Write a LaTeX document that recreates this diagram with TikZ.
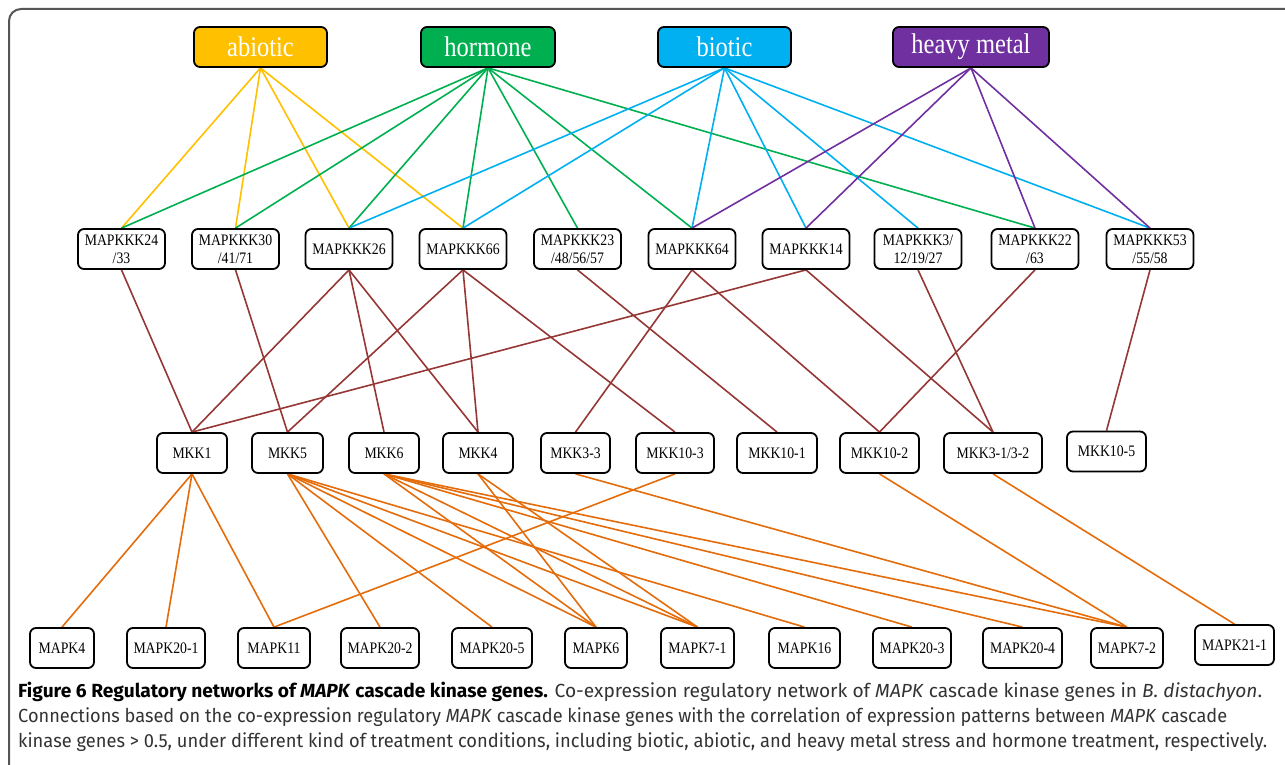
\documentclass[tikz,border=0pt]{standalone}
\usepackage{fontspec}
\setmainfont{Liberation Serif}[FakeStretch=0.86]
\newfontfamily\capfont{Fira Sans}
\usetikzlibrary{backgrounds}
\definecolor{abioC}{HTML}{FFC000}
\definecolor{hormC}{HTML}{00B050}
\definecolor{bioC}{HTML}{00B0F0}
\definecolor{metC}{HTML}{7030A0}
\definecolor{kkC}{HTML}{953735}
\definecolor{kC}{HTML}{E46C0A}
\definecolor{frameC}{HTML}{555555}
\definecolor{capC}{HTML}{333333}
\newsavebox\capbox
\newcommand\fitto[2]{\sbox\capbox{#2}\pgfmathsetmacro\capsx{#1/\wd\capbox}\scalebox{\capsx}[1]{\usebox\capbox}}
\tikzset{
  gene/.style={draw=black, line width=1.8pt, rounded corners=6pt, fill=white,
    minimum height=40pt, inner sep=0pt, align=center,
    font=\fontsize{16}{18}\selectfont},
  cat/.style={draw=black, line width=1.8pt, rounded corners=6pt,
    minimum height=40pt, inner sep=0pt, text=white,
    font=\fontsize{28.5}{30}\selectfont},
  e/.style={line width=1.6pt},
  capline/.style={anchor=base west, inner sep=0pt, text=capC,
    font=\capfont\fontsize{19}{20}\selectfont}
}
\begin{document}
\begin{tikzpicture}[x=1pt,y=-1pt]
\useasboundingbox (0,0) rectangle (1285,765);
\draw[frameC, line width=2pt, rounded corners=12pt] (9,9) rectangle (1310,790);

% categories
\node[cat, fill=abioC, minimum width=133pt] (abiotic) at (260.5,47) {abiotic};
\node[cat, fill=hormC, minimum width=134pt] (hormone) at (488,47) {hormone};
\node[cat, fill=bioC, minimum width=133pt] (biotic) at (724.5,47) {biotic};
\node[cat, fill=metC, minimum width=156pt] (metal) at (971,47) {heavy metal};

% MAPKKK
\node[gene, minimum width=87pt] (k24) at (121.5,249) {MAPKKK24\\/33};
\node[gene, minimum width=87pt] (k30) at (235.5,249) {MAPKKK30\\/41/71};
\node[gene, minimum width=87pt] (k26) at (349,249) {MAPKKK26};
\node[gene, minimum width=87pt] (k66) at (463,249) {MAPKKK66};
\node[gene, minimum width=87pt] (k23) at (577.5,249) {MAPKKK23\\/48/56/57};
\node[gene, minimum width=87pt] (k64) at (692,249) {MAPKKK64};
\node[gene, minimum width=87pt] (k14) at (806,249) {MAPKKK14};
\node[gene, minimum width=87pt] (k3) at (918,249) {MAPKKK3/\\12/19/27};
\node[gene, minimum width=87pt] (k22) at (1035,249) {MAPKKK22\\/63};
\node[gene, minimum width=87pt] (k53) at (1150,249) {MAPKKK53\\/55/58};

% MKK
\node[gene, minimum width=70pt] (m1) at (192,453) {MKK1};
\node[gene, minimum width=71pt] (m5) at (287.5,453) {MKK5};
\node[gene, minimum width=70pt] (m6) at (384,453) {MKK6};
\node[gene, minimum width=70pt] (m4) at (478,453) {MKK4};
\node[gene, minimum width=69pt] (m33) at (575.5,453) {MKK3-3};
\node[gene, minimum width=78pt] (m103) at (675,453) {MKK10-3};
\node[gene, minimum width=80pt] (m101) at (777,453) {MKK10-1};
\node[gene, minimum width=79pt] (m102) at (879.5,453) {MKK10-2};
\node[gene, minimum width=98pt] (m31) at (993,453) {MKK3-1/3-2};
\node[gene, minimum width=79pt] (m105) at (1106.5,451.5) {MKK10-5};

% MAPK
\node[gene, minimum width=64pt] (p4) at (62,648) {MAPK4};
\node[gene, minimum width=78pt] (p201) at (166,648) {MAPK20-1};
\node[gene, minimum width=72pt] (p11) at (274,648) {MAPK11};
\node[gene, minimum width=78pt] (p202) at (380,648) {MAPK20-2};
\node[gene, minimum width=80pt] (p205) at (492,648) {MAPK20-5};
\node[gene, minimum width=62pt] (p6) at (596,648) {MAPK6};
\node[gene, minimum width=73pt] (p71) at (697.5,648) {MAPK7-1};
\node[gene, minimum width=71pt] (p16) at (804.5,648) {MAPK16};
\node[gene, minimum width=78pt] (p203) at (912,648) {MAPK20-3};
\node[gene, minimum width=79pt] (p204) at (1022.5,648) {MAPK20-4};
\node[gene, minimum width=72pt] (p72) at (1127,648) {MAPK7-2};
\node[gene, minimum width=79pt] (p211) at (1234.5,645) {MAPK21-1};

\begin{pgfonlayer}{background}
\foreach \t in {k24,k30,k26,k66} \draw[e,abioC] (abiotic.south) -- (\t.north);
\foreach \t in {k24,k30,k26,k66,k23,k64,k22} \draw[e,hormC] (hormone.south) -- (\t.north);
\foreach \t in {k26,k66,k64,k14,k3,k53} \draw[e,bioC] (biotic.south) -- (\t.north);
\foreach \t in {k64,k14,k22,k53} \draw[e,metC] (metal.south) -- (\t.north);
\foreach \a/\b in {k24/m1,k30/m5,k26/m1,k26/m6,k26/m4,k66/m5,k66/m4,k66/m103,
  k23/m101,k64/m33,k64/m102,k14/m1,k14/m31,k3/m31,k22/m102,k53/m105}
  \draw[e,kkC] (\a.south) -- (\b.north);
\foreach \a/\b in {m1/p4,m1/p201,m1/p11,m5/p202,m5/p205,m5/p6,m5/p71,m5/p16,
  m6/p6,m6/p71,m6/p203,m6/p204,m6/p72,m4/p6,m4/p71,m33/p72,m103/p11,m102/p72,m31/p211}
  \draw[e,kC] (\a.south) -- (\b.north);
\end{pgfonlayer}

% caption
\node[capline] (c1) at (18,697) {\fitto{1244}{{\bfseries\color{black}Figure 6 Regulatory networks of \textit{MAPK} cascade kinase genes.} Co-expression regulatory network of \textit{MAPK} cascade kinase genes in \textit{B. distachyon}.}};
\node[capline] (c2) at (18,722) {\fitto{1209}{Connections based on the co-expression regulatory \textit{MAPK} cascade kinase genes with the correlation of expression patterns between \textit{MAPK} cascade}};
\node[capline] (c3) at (18,747) {\fitto{1249}{kinase genes > 0.5, under different kind of treatment conditions, including biotic, abiotic, and heavy metal stress and hormone treatment, respectively.}};
\end{tikzpicture}
\end{document}
